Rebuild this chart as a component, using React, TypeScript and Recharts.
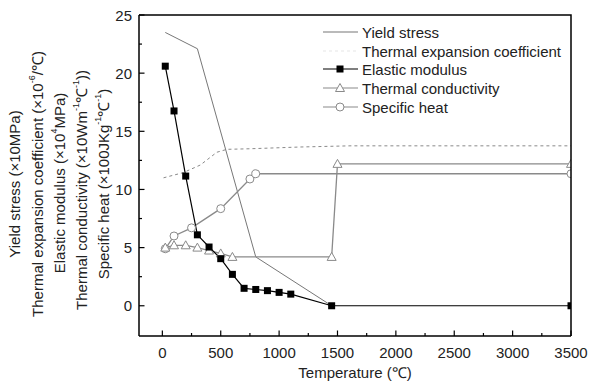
import { LineChart, Line, XAxis, YAxis } from 'recharts';

// Yield stress (x10 MPa)
const yieldT = [25, 300, 800, 1450];
const yieldV = [23.5, 22.1, 4.2, 0];

// Thermal expansion coefficient (x10^-6 /C)
const expT = [10, 180, 325, 467, 553, 752, 1180, 1607, 2500, 3500];
const expV = [11.0, 11.45, 12.1, 13.2, 13.45, 13.5, 13.65, 13.75, 13.75, 13.75];

// Elastic modulus (x10^4 MPa)
const elasT = [25, 100, 200, 300, 400, 500, 600, 700, 800, 900, 1000, 1100, 1450, 3500];
const elasV = [20.6, 16.75, 11.15, 6.1, 5.05, 4.05, 2.7, 1.5, 1.4, 1.3, 1.15, 1.0, 0, 0];

// Thermal conductivity (x10 W/m/C)
const condT = [25, 100, 200, 300, 400, 500, 600, 1450, 1500, 3500];
const condV = [5.0, 5.2, 5.2, 5.0, 4.75, 4.5, 4.2, 4.2, 12.2, 12.2];

// Specific heat (x100 J/kg/C)
const heatT = [25, 100, 250, 500, 750, 800, 3500];
const heatV = [4.9, 6.0, 6.7, 8.35, 10.9, 11.35, 11.35];

const xTicks = [0, 250, 500, 750, 1000, 1250, 1500, 1750, 2000, 2250, 2500, 2750, 3000, 3250, 3500];
const yTicks = [0, 2.5, 5, 7.5, 10, 12.5, 15, 17.5, 20, 22.5, 25];

const zip = (xs: number[], ys: number[]) => xs.map((t, i) => ({ t, v: ys[i] }));

const FONT = 'Arial, "Liberation Sans", Helvetica, sans-serif';
const GRAY = '#8a8a8a';

// plot box (chart margins + axis sizes)
const W = 589, H = 383;
const M = { top: 15, right: 18, bottom: 17, left: 99 };
const Y_W = 40, X_H = 30;
const PL = M.left + Y_W, PR = W - M.right, PT = M.top, PB = H - M.bottom - X_H;

const Square = (p: any) => (
  <rect key={`s${p.index}`} x={p.cx - 3.5} y={p.cy - 3.5} width={7} height={7} fill="#000" />
);
const Tri = (p: any) => (
  <polygon
    key={`t${p.index}`}
    points={`${p.cx},${p.cy - 4.5} ${p.cx + 4.5},${p.cy + 3.5} ${p.cx - 4.5},${p.cy + 3.5}`}
    fill="#fff"
    stroke={GRAY}
    strokeWidth={1}
  />
);
const Circ = (p: any) => (
  <circle key={`c${p.index}`} cx={p.cx} cy={p.cy} r={4} fill="#fff" stroke={GRAY} strokeWidth={1} />
);

// ticks point into the plot; minor ticks have no label
const XTick = (p: any) => {
  const v = p.payload.value;
  const major = v % 500 === 0;
  const ay = p.y - 10;
  return (
    <g>
      <line x1={p.x} x2={p.x} y1={ay} y2={ay - (major ? 5.5 : 3)} stroke="#000" strokeWidth={1.2} />
      {major && (
        <text x={p.x} y={ay + 16} textAnchor="middle" dominantBaseline="central" fontSize={15} fontFamily={FONT} fill="#222">
          {v}
        </text>
      )}
    </g>
  );
};
const YTick = (p: any) => {
  const v = p.payload.value;
  const major = v % 5 === 0;
  const ax = p.x + 7;
  return (
    <g>
      <line x1={ax} x2={ax + (major ? 5.5 : 3)} y1={p.y} y2={p.y} stroke="#000" strokeWidth={1.2} />
      {major && (
        <text x={ax - 7} y={p.y} textAnchor="end" dominantBaseline="central" fontSize={15} fontFamily={FONT} fill="#222">
          {v}
        </text>
      )}
    </g>
  );
};

const sup = (s: string) => (
  <tspan baselineShift="super" fontSize={9}>{s}</tspan>
);

export default function App() {
  const legendRows = [
    { y: 32, label: 'Yield stress', color: '#777', mark: null as any, dash: undefined as any },
    { y: 51, label: 'Thermal expansion coefficient', color: '#e6e6e6', mark: null, dash: '3 3' },
    { y: 69, label: 'Elastic modulus', color: '#000', mark: Square, dash: undefined },
    { y: 88, label: 'Thermal conductivity', color: GRAY, mark: Tri, dash: undefined },
    { y: 107, label: 'Specific heat', color: GRAY, mark: Circ, dash: undefined },
  ];

  return (
    <div style={{ position: 'absolute', left: 0, top: 0, width: W, height: H, background: '#fff' }}>
      <LineChart width={W} height={H} margin={M}>
        <XAxis
          dataKey="t"
          type="number"
          domain={[-200, 3500]}
          ticks={xTicks}
          allowDataOverflow
          height={X_H}
          tick={XTick}
          tickSize={0}
          tickMargin={10}
          tickLine={false}
          axisLine={{ stroke: '#000', strokeWidth: 1.5 }}
          interval={0}
        />
        <YAxis
          type="number"
          domain={[-2.6, 25]}
          ticks={yTicks}
          allowDataOverflow
          width={Y_W}
          tick={YTick}
          tickSize={0}
          tickMargin={7}
          tickLine={false}
          axisLine={{ stroke: '#000', strokeWidth: 1.5 }}
          interval={0}
        />
        <Line data={zip(expT, expV)} dataKey="v" stroke={GRAY} strokeWidth={1} strokeDasharray="3 3" dot={false} isAnimationActive={false} />
        <Line data={zip(yieldT, yieldV)} dataKey="v" stroke="#777" strokeWidth={1} dot={false} isAnimationActive={false} />
        <Line data={zip(heatT, heatV)} dataKey="v" stroke={GRAY} strokeWidth={1.3} dot={Circ} isAnimationActive={false} />
        <Line data={zip(condT, condV)} dataKey="v" stroke={GRAY} strokeWidth={1.3} dot={Tri} isAnimationActive={false} />
        <Line data={zip(elasT, elasV)} dataKey="v" stroke="#000" strokeWidth={1.2} dot={Square} isAnimationActive={false} />
      </LineChart>

      <svg width={W} height={H} style={{ position: 'absolute', left: 0, top: 0, pointerEvents: 'none' }}>
        {/* top and right sides of the plot frame */}
        <path d={`M${PL},${PT}H${PR}V${PB}`} fill="none" stroke="#000" strokeWidth={1.5} />
        {legendRows.map((r, i) => (
          <g key={i}>
            <line x1={323} x2={358} y1={r.y} y2={r.y} stroke={r.color} strokeWidth={1.2} strokeDasharray={r.dash} />
            {r.mark ? r.mark({ cx: 340, cy: r.y, index: 100 + i }) : null}
            <text x={362} y={r.y} dominantBaseline="central" fontSize={15} fontFamily={FONT} fill="#222">
              {r.label}
            </text>
          </g>
        ))}
        <text x={355} y={372} textAnchor="middle" dominantBaseline="central" fontSize={15} fontFamily={FONT} fill="#222">
          Temperature (℃)
        </text>
        <g transform="rotate(-90)" fontSize={15} fontFamily={FONT} fill="#222" textAnchor="middle" dominantBaseline="central">
          <text x={-184} y={14}>Yield stress (×10MPa)</text>
          <text x={-184} y={37}>Thermal expansion coefficient (×10{sup('-6')}/℃)</text>
          <text x={-183} y={59}>Elastic modulus (×10{sup('4')}MPa)</text>
          <text x={-190} y={81}>Thermal conductivity (×10Wm{sup('-1')}℃{sup('-1')}))</text>
          <text x={-184} y={103}>Specific heat (×100JKg{sup('-1')}℃{sup('-1')})</text>
        </g>
      </svg>
    </div>
  );
}
